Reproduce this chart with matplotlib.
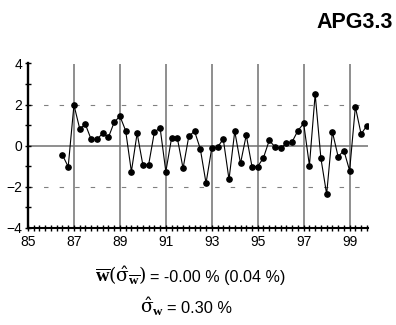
import numpy as np
import matplotlib
matplotlib.use('Agg')
import matplotlib.pyplot as plt
from matplotlib.ticker import MultipleLocator

plt.rcParams['font.family'] = ['Liberation Sans', 'DejaVu Sans']
plt.rcParams['mathtext.fontset'] = 'custom'
plt.rcParams['mathtext.rm'] = 'DejaVu Serif'
plt.rcParams['mathtext.it'] = 'Liberation Serif:italic'
plt.rcParams['mathtext.bf'] = 'Liberation Serif:bold'

# Datos trimestrales (desde 86.5 hasta 99.75)
anio_inicio = 86.5
paso = 0.25
valores = [-0.46, -1.03, 1.98, 0.83, 1.03, 0.30, 0.30, 0.60, 0.40, 1.13,
           1.44, 0.73, -1.27, 0.60, -0.94, -0.94, 0.65, 0.87, -1.27, 0.37,
           0.37, -1.11, 0.46, 0.70, -0.16, -1.83, -0.11, -0.08, 0.32, -1.65,
           0.70, -0.87, 0.51, -1.02, -1.02, -0.59, 0.25, -0.06, -0.13, 0.11,
           0.19, 0.73, 1.08, -0.97, 2.51, -0.62, -2.37, 0.67, -0.54, -0.24,
           -1.22, 1.89, 0.56, 0.97]
x_ticks = [85, 87, 89, 91, 93, 95, 97, 99]
y_ticks = [-4, -2, 0, 2, 4]
lineas_verticales = [87, 89, 91, 93, 95, 97, 99]
titulo = 'APG3.3'
mat1 = r'$\overline{\mathbf{w}}(\hat{\mathrm{\sigma}}_{\overline{\mathbf{w}}})$'
txt1 = '= -0.00 % (0.04 %)'
mat2 = r'$\hat{\mathrm{\sigma}}_{\mathbf{w}}$'
txt2 = '= 0.30 %'

x = anio_inicio + paso * np.arange(len(valores))

W, H = 396, 325
fig = plt.figure(figsize=(W / 100, H / 100), dpi=100)
ax = fig.add_axes([28 / W, 1 - 227.7 / H, (368 - 28) / W, (227.7 - 63.5) / H])

# Lineas de referencia
for xv in lineas_verticales:
    ax.axvline(xv, color='#707070', lw=1.1, zorder=1)
ax.axhline(0, color='#707070', lw=1.1, zorder=1)
for yv in [-2, 2]:
    ax.axhline(yv, color='#808080', lw=0.8, dashes=(4, 10), zorder=1)

ax.plot(x, valores, color='black', lw=0.8, marker='o', ms=3.8, zorder=3)

ax.set_xlim(85, 99.8)
ax.set_ylim(-4, 4)
ax.set_xticks(x_ticks)
ax.set_yticks(y_ticks)
ax.xaxis.set_minor_locator(MultipleLocator(0.25))
ax.yaxis.set_minor_locator(MultipleLocator(1))

for s in ['top', 'right']:
    ax.spines[s].set_visible(False)
ax.spines['left'].set_linewidth(1.7)
ax.spines['bottom'].set_linewidth(1.5)

ax.tick_params(axis='both', which='both', direction='inout', width=1.0,
               labelsize=10, colors='black')
ax.tick_params(axis='x', which='major', length=5, pad=3)
ax.tick_params(axis='x', which='minor', length=4.5)
ax.tick_params(axis='y', which='major', length=4, pad=2)
ax.tick_params(axis='y', which='minor', length=4)

fig.text(393 / W, 1 - 12 / H, titulo, fontsize=15.5, fontweight='bold',
         ha='right', va='top')
fig.text(147 / W, 1 - 282 / H, mat1, fontsize=13.5, ha='right', va='baseline')
fig.text(150 / W, 1 - 282 / H, txt1, fontsize=11.6, ha='left', va='baseline')
fig.text(164 / W, 1 - 313 / H, mat2, fontsize=13.5, ha='right', va='baseline')
fig.text(167 / W, 1 - 313 / H, txt2, fontsize=11.8, ha='left', va='baseline')

fig.savefig('out.png', dpi=100)
